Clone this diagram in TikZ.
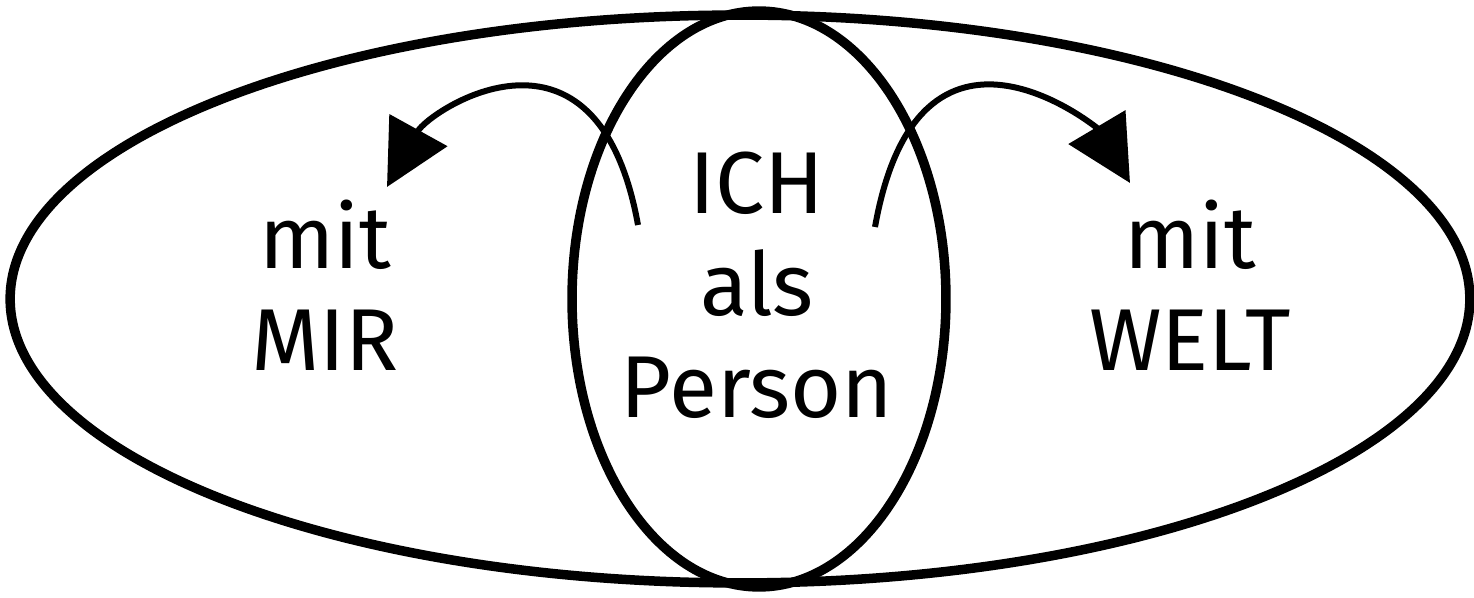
\documentclass[tikz,border=0pt]{standalone}
\usepackage{fontspec}
\setmainfont{Fira Sans}
\usetikzlibrary{arrows.meta,shapes.geometric}
\tikzset{
  bigring/.style={
    draw,
    ellipse,
    line width=0.19cm,
    inner sep=0pt
  },
  ringlabel/.style={
    align=center,
    inner sep=0pt,
    font=\fontsize{50}{58}\selectfont
  },
  turnarrow/.style={-{Triangle[length=1.3cm, width=1.3cm]}, line width=0.12cm}
}

\begin{document}
\begin{tikzpicture}[x=0.02cm, y=0.02cm]
  \useasboundingbox (0,0) rectangle (1474,598);

  \node[bigring, minimum width=29.2cm, minimum height=11.36cm] (welt) at (740,299) {};
  \node[bigring, minimum width=7.48cm, minimum height=11.52cm] (ich) at (759,299) {};

  \node[ringlabel] (person) at (757,313) {ICH\\als\\Person};
  \node[ringlabel] (mir) at (325,313) {mit\\MIR};
  \node[ringlabel] (weltlabel) at (1190,313) {mit\\WELT};

  \coordinate (fromleft) at (638,373);
  \coordinate (toleft) at (387,411);
  \coordinate (fromright) at (875,371);
  \coordinate (toright) at (1130,415);

  \draw[turnarrow] (fromleft) .. controls (597,600) and (429,487) .. (toleft);
  \draw[turnarrow] (fromright) .. controls (919,618) and (1098,469) .. (toright);
\end{tikzpicture}
\end{document}
